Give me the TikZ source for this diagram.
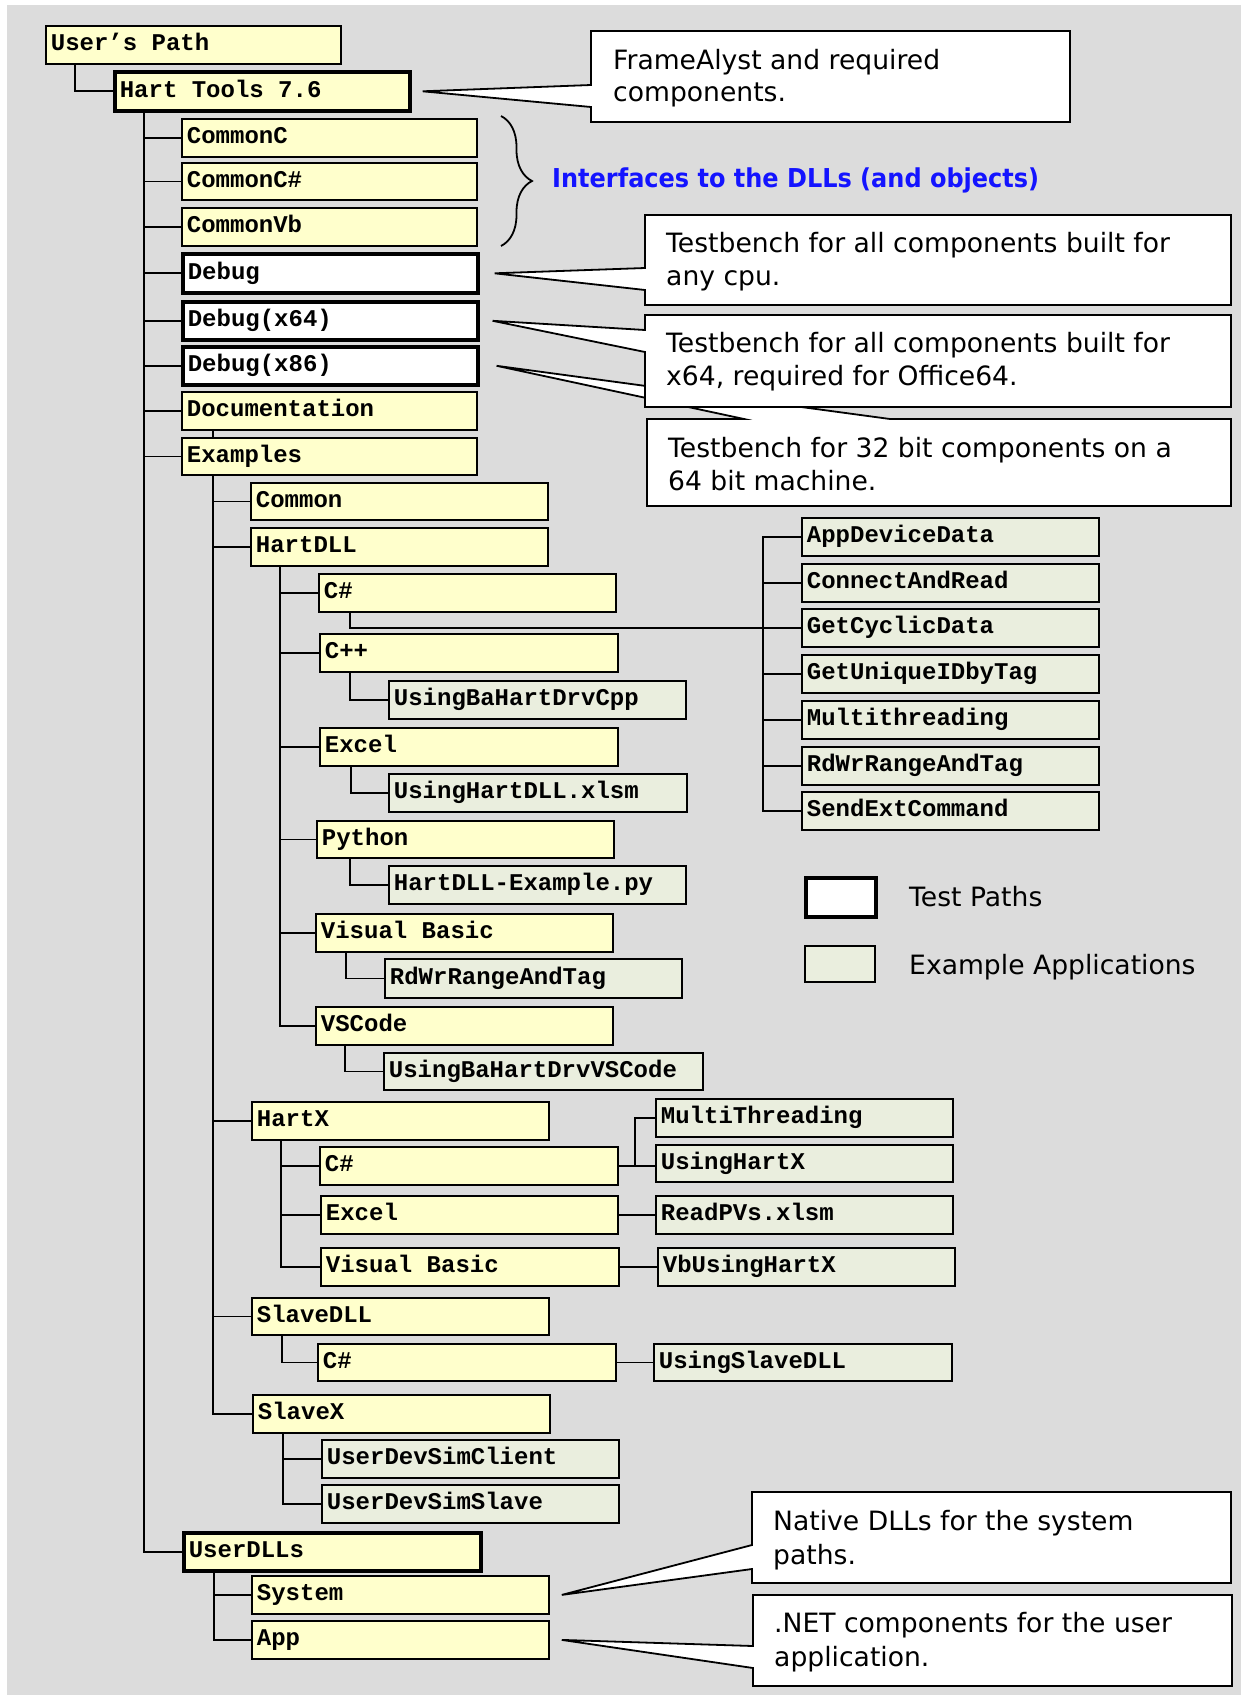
\documentclass[tikz,border=0pt]{standalone}
\usepackage{fontspec}
\usetikzlibrary{decorations.pathreplacing,calc}
\newfontfamily\monofam{Liberation Mono}
\newfontfamily\notefam{DejaVu Sans}
\definecolor{bggray}{RGB}{220,220,220}
\definecolor{ylw}{RGB}{255,255,204}
\definecolor{grn}{RGB}{234,238,222}
\definecolor{bluetxt}{RGB}{20,20,255}
% full-width blank for the monospaced labels
\newcommand\mblank{\hspace*{0.6em}}
\pgfdeclarelayer{bg}
\pgfsetlayers{bg,main}
\tikzset{
  bx/.code 2 args={\pgfmathsetmacro\bxw{#1-10}\edef\bxtmp{\noexpand\tikzset{text width=\bxw pt,minimum height=#2pt}}\bxtmp},
  ybox/.style={draw, line width=1.8pt, fill=ylw, anchor=north west, inner xsep=5pt, inner ysep=2pt,
    text height=17pt, text depth=5pt, align=left, font=\monofam\bfseries\fontsize{24}{28}\selectfont},
  gbox/.style={ybox, fill=grn},
  tybox/.style={ybox, line width=3.6pt},
  wbox/.style={tybox, fill=white},
  conn/.style={line width=1.8pt, line join=miter},
  note/.style={draw, line width=1.8pt, fill=white, line join=miter},
  ntext/.style={anchor=base west, inner sep=0pt, font=\notefam\fontsize{26.6}{33}\selectfont},
}
\begin{document}
\begin{tikzpicture}[x=1pt,y=-1pt]
\useasboundingbox (0,0) rectangle (1241,1695);
\begin{pgfonlayer}{bg}
  \fill[bggray] (7,5) rectangle (1241,1695);
\end{pgfonlayer}

% top of the tree
\node[ybox, bx={295}{38}] (usr) at (45,25) {User’s\mblank Path};
\node[tybox, bx={295}{39}] (ht) at (113,70) {Hart\mblank Tools\mblank 7.6};
\node[ybox, bx={295}{38}] (commonc) at (181,118) {CommonC};
\node[ybox, bx={295}{37}] (commoncs) at (181,162) {CommonC\#};
\node[ybox, bx={295}{38}] (commonvb) at (181,207) {CommonVb};
\node[wbox, bx={295}{39}] (debug) at (181,252) {Debug};
\node[wbox, bx={295}{38}] (dbg64) at (181,300) {Debug(x64)};
\node[wbox, bx={295}{38}] (dbg86) at (181,345) {Debug(x86)};
\node[ybox, bx={295}{38}] (doc) at (181,391) {Documentation};
\node[ybox, bx={295}{37}] (ex) at (181,437) {Examples};

% Examples / HartDLL
\node[ybox, bx={297}{37}] (common) at (250,482) {Common};
\node[ybox, bx={297}{38}] (hartdll) at (250,527) {HartDLL};
\node[ybox, bx={297}{38}] (hcs) at (318,573) {C\#};
\node[ybox, bx={298}{38}] (hcpp) at (319,633) {C++};
\node[gbox, bx={297}{38}] (cppapp) at (388,680) {UsingBaHartDrvCpp};
\node[ybox, bx={298}{38}] (hexcel) at (319,727) {Excel};
\node[gbox, bx={298}{38}] (xlsapp) at (388,773) {UsingHartDLL.xlsm};
\node[ybox, bx={297}{37}] (hpy) at (316,820) {Python};
\node[gbox, bx={297}{38}] (pyapp) at (388,865) {HartDLL-Example.py};
\node[ybox, bx={297}{38}] (hvb) at (315,913) {Visual\mblank Basic};
\node[gbox, bx={297}{39}] (vbapp) at (384,958) {RdWrRangeAndTag};
\node[ybox, bx={297}{38}] (hvsc) at (315,1006) {VSCode};
\node[gbox, bx={319}{37}] (vscapp) at (383,1052) {UsingBaHartDrvVSCode};

% C# example applications
\node[gbox, bx={297}{38}] (a1) at (801,517) {AppDeviceData};
\node[gbox, bx={297}{38}] (a2) at (801,563) {ConnectAndRead};
\node[gbox, bx={297}{38}] (a3) at (801,608) {GetCyclicData};
\node[gbox, bx={297}{38}] (a4) at (801,654) {GetUniqueIDbyTag};
\node[gbox, bx={297}{38}] (a5) at (801,700) {Multithreading};
\node[gbox, bx={297}{38}] (a6) at (801,746) {RdWrRangeAndTag};
\node[gbox, bx={297}{38}] (a7) at (801,791) {SendExtCommand};

% HartX
\node[ybox, bx={297}{38}] (hartx) at (251,1101) {HartX};
\node[ybox, bx={298}{38}] (xcs) at (319,1146) {C\#};
\node[ybox, bx={297}{38}] (xexcel) at (320,1195) {Excel};
\node[ybox, bx={298}{38}] (xvb) at (320,1247) {Visual\mblank Basic};
\node[gbox, bx={297}{38}] (xmt) at (655,1098) {MultiThreading};
\node[gbox, bx={297}{37}] (uhx) at (655,1144) {UsingHartX};
\node[gbox, bx={297}{38}] (rpv) at (655,1195) {ReadPVs.xlsm};
\node[gbox, bx={297}{38}] (vbx) at (657,1247) {VbUsingHartX};

% SlaveDLL and SlaveX
\node[ybox, bx={297}{37}] (sdll) at (251,1297) {SlaveDLL};
\node[ybox, bx={298}{37}] (scs) at (317,1343) {C\#};
\node[gbox, bx={298}{37}] (usd) at (653,1343) {UsingSlaveDLL};
\node[ybox, bx={297}{38}] (sx) at (252,1394) {SlaveX};
\node[gbox, bx={297}{38}] (udc) at (321,1439) {UserDevSimClient};
\node[gbox, bx={297}{38}] (uds) at (321,1484) {UserDevSimSlave};

% UserDLLs
\node[tybox, bx={297}{38}] (udll) at (182,1531) {UserDLLs};
\node[ybox, bx={297}{38}] (sys) at (251,1575) {System};
\node[ybox, bx={297}{38}] (app) at (251,1620) {App};

% trunk positions
\coordinate (tkJ) at (75,0);
\coordinate (tkA) at (144,0);
\coordinate (tkB) at (213,0);
\coordinate (tkC) at (280,0);
\coordinate (tkD) at (763,0);
\coordinate (tkE) at (281,0);
\coordinate (tkF) at (635,0);
\coordinate (tkG) at (282,0);
\coordinate (tkH) at (283,0);
\coordinate (tkI) at (214,0);

\begin{pgfonlayer}{bg}
  \draw[conn] (usr.south -| tkJ) |- (ht.west);
  \foreach \c in {commonc,commoncs,commonvb,debug,dbg64,dbg86,doc,ex,udll}
    \draw[conn] (ht.south -| tkA) |- (\c.west);
  \foreach \c in {common,hartdll,hartx,sdll,sx}
    \draw[conn] (doc.south -| tkB) |- (\c.west);
  \foreach \c in {hcs,hcpp,hexcel,hpy,hvb,hvsc}
    \draw[conn] (hartdll.south -| tkC) |- (\c.west);
  \draw[conn] ([xshift=31pt]hcpp.south west) |- (cppapp.west);
  \draw[conn] ([xshift=32pt]hexcel.south west) |- (xlsapp.west);
  \draw[conn] ([xshift=34pt]hpy.south west) |- (pyapp.west);
  \draw[conn] ([xshift=31pt]hvb.south west) |- (vbapp.west);
  \draw[conn] ([xshift=30pt]hvsc.south west) |- (vscapp.west);
  \draw[conn] ([xshift=32pt]hcs.south west) |- (a3.west);
  \draw[conn] (a1.west) -- (a1.west -| tkD) -- (a7.west -| tkD) -- (a7.west);
  \foreach \c in {a2,a4,a5,a6}
    \draw[conn] (\c.west -| tkD) -- (\c.west);
  \foreach \c in {xcs,xexcel,xvb}
    \draw[conn] (hartx.south -| tkE) |- (\c.west);
  \draw[conn] (xcs.east) -- (xcs.east -| uhx.west);
  \draw[conn] (xcs.east -| tkF) |- (xmt.west);
  \draw[conn] (xexcel.east) -- (rpv.west);
  \draw[conn] (xvb.east) -- (vbx.west);
  \draw[conn] (sdll.south -| tkG) |- (scs.west);
  \draw[conn] (scs.east) -- (usd.west);
  \foreach \c in {udc,uds}
    \draw[conn] (sx.south -| tkH) |- (\c.west);
  \foreach \c in {sys,app}
    \draw[conn] (udll.south -| tkI) |- (\c.west);
\end{pgfonlayer}

% brace and its caption
\draw[line width=1.8pt, decorate, decoration={brace, amplitude=31pt}] (501,116) -- (501,246);
\node[anchor=base west, inner sep=0pt, text=bluetxt, font=\notefam\bfseries\fontsize{26}{30}\selectfont]
  (iface) at (552,187) {\resizebox{487pt}{\height}{Interfaces to the DLLs (and objects)}};

% callouts
\draw[note] (591,31) -- (1070,31) -- (1070,122) -- (591,122) -- (591,107)
  -- ([xshift=11pt]ht.east) -- (591,85) -- cycle;
\node[ntext] (c1a) at (613,69) {FrameAlyst and required};
\node[ntext] (c1b) at (613,101) {components.};

\draw[note] (645,215) -- (1231,215) -- (1231,305) -- (645,305) -- (645,290)
  -- ([xshift=15pt]debug.east) -- (645,268) -- cycle;
\node[ntext] (c2a) at (666,252) {Testbench for all components built for};
\node[ntext] (c2b) at (666,285) {any cpu.};

\draw[note] (647,419) -- (744,419) -- ([xshift=17pt]dbg86.east) -- (890,419)
  -- (1231,419) -- (1231,506) -- (647,506) -- cycle;
\node[ntext] (c4a) at (668,457) {Testbench for 32 bit components on a};
\node[ntext] (c4b) at (668,490) {64 bit machine.};

\draw[note] (645,315) -- (1231,315) -- (1231,407) -- (645,407) -- (645,352)
  -- ([xshift=13pt]dbg64.east) -- (645,330) -- cycle;
\node[ntext] (c3a) at (666,352) {Testbench for all components built for};
\node[ntext] (c3b) at (666,385) {x64, required for Office64.};

\draw[note] (752,1492) -- (1231,1492) -- (1231,1583) -- (752,1583) -- (752,1569)
  -- ([xshift=12pt]sys.east) -- (752,1545) -- cycle;
\node[ntext] (c5a) at (773,1530) {Native DLLs for the system};
\node[ntext] (c5b) at (773,1564) {paths.};

\draw[note] (753,1595) -- (1232,1595) -- (1232,1686) -- (753,1686) -- (753,1668)
  -- ([xshift=12pt]app.east) -- (753,1646) -- cycle;
\node[ntext] (c6a) at (774,1632) {.NET components for the user};
\node[ntext] (c6b) at (774,1666) {application.};

% legend
\node[wbox, bx={70}{39}] (lgT) at (804,876) {};
\node[gbox, bx={70}{36}] (lgE) at (804,945) {};
\node[ntext] (lgTt) at (909,906) {Test Paths};
\node[ntext] (lgEt) at (909,974) {Example Applications};
\end{tikzpicture}
\end{document}
